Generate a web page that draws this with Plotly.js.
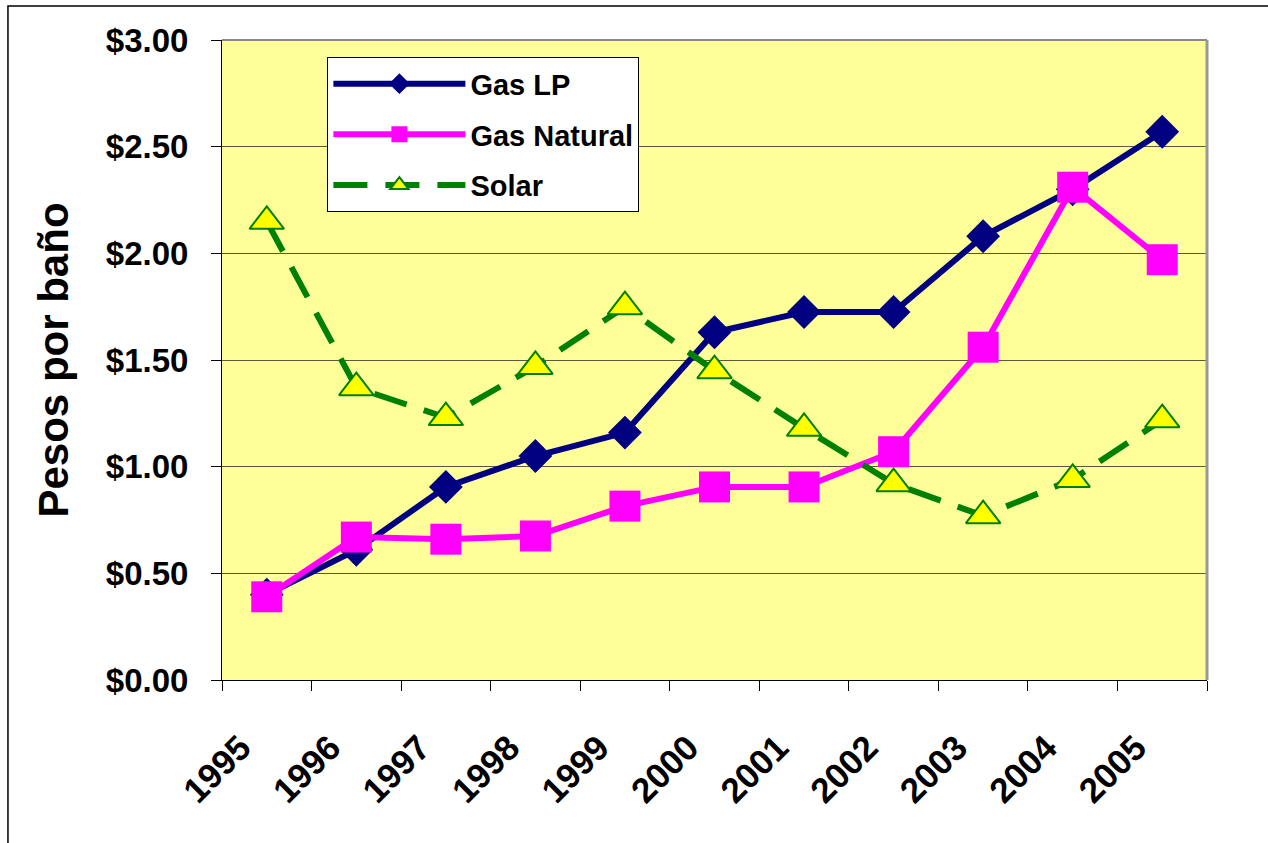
<!DOCTYPE html>
<html><head><meta charset="utf-8">
<script src="https://cdn.plot.ly/plotly-3.0.1.min.js"></script>
<style>html,body{margin:0;padding:0;background:#fff}#chart{width:1268px;height:843px}</style>
</head><body><div id="chart"></div>
<script>
var years = ['1995','1996','1997','1998','1999','2000','2001','2002','2003','2004','2005'];
var gasLP = [0.40, 0.61, 0.905, 1.05, 1.16, 1.63, 1.725, 1.725, 2.08, 2.30, 2.57];
var gasNatural = [0.39, 0.67, 0.66, 0.675, 0.815, 0.905, 0.905, 1.07, 1.56, 2.31, 1.97];
var solar = [2.15, 1.37, 1.23, 1.47, 1.75, 1.45, 1.18, 0.92, 0.77, 0.94, 1.22];

var FONT = 'Liberation Sans, Arial, sans-serif';
var traces = [
  {x: years, y: gasLP, name: 'Gas LP', legendgroup: 'a', type: 'scatter', mode: 'lines+markers',
   line: {color: '#000080', width: 6}, marker: {symbol: 'diamond', size: 26, color: '#000080'}},
  {x: years, y: gasNatural, name: 'Gas Natural', legendgroup: 'b', type: 'scatter', mode: 'lines+markers',
   line: {color: '#FF00FF', width: 6}, marker: {symbol: 'square', size: 31, color: '#FF00FF'}},
  {x: years, y: solar, name: 'Solar', legendgroup: 'c', type: 'scatter', mode: 'lines+markers',
   line: {color: '#008000', width: 6, dash: '34px,18px'},
   marker: {symbol: 'triangle-up', size: 30, color: '#FFFF00', line: {color: '#008000', width: 2}}}
];
var layout = {
  width: 1268, height: 843,
  margin: {l: 222, r: 61, t: 40, b: 163},
  paper_bgcolor: '#ffffff', plot_bgcolor: '#FFFF99',
  font: {family: FONT, size: 30, color: '#000', weight: 700},
  showlegend: true,
  legend: {x: 0.107, y: 0.973, xanchor: 'left', yanchor: 'top', bgcolor: '#ffffff',
    bordercolor: '#000', borderwidth: 1, font: {family: FONT, size: 29, weight: 700},
    tracegroupgap: 10, itemwidth: 132},
  xaxis: {type: 'category', tickson: 'boundaries', ticks: 'outside', ticklen: 10, tickcolor: '#000',
    showline: true, linecolor: '#000', linewidth: 1, showgrid: false, tickangle: -45,
    ticklabelstandoff: 32, ticklabelshift: -26,
    tickfont: {family: FONT, size: 35, weight: 700}, range: [-0.5, 10.5]},
  yaxis: {range: [0, 3], dtick: 0.5, tickprefix: '$', tickformat: '.2f', ticks: 'outside', ticklen: 10,
    tickcolor: '#000', showline: true, linecolor: '#000', linewidth: 1,
    showgrid: true, gridcolor: '#5a5a3a', gridwidth: 1, zeroline: false,
    ticklabelstandoff: 16, tickfont: {family: FONT, size: 33, weight: 700},
    title: {text: 'Pesos por baño', font: {family: FONT, size: 42, weight: 700}, standoff: 24}},
  shapes: [
    {type: 'line', xref: 'paper', yref: 'paper', x0: 0, x1: 1, y0: 1, y1: 1, line: {color: '#888', width: 2}},
    {type: 'line', xref: 'paper', yref: 'paper', x0: 1, x1: 1, y0: 0, y1: 1, line: {color: '#999', width: 3}},
    {type: 'rect', xref: 'paper', yref: 'paper', x0: -0.2173, x1: 1.2, y0: 1.0531, y1: -0.4, line: {color: '#000', width: 1.5}}
  ]
};
Plotly.newPlot('chart', traces, layout, {displayModeBar: false, responsive: false});
</script></body></html>
